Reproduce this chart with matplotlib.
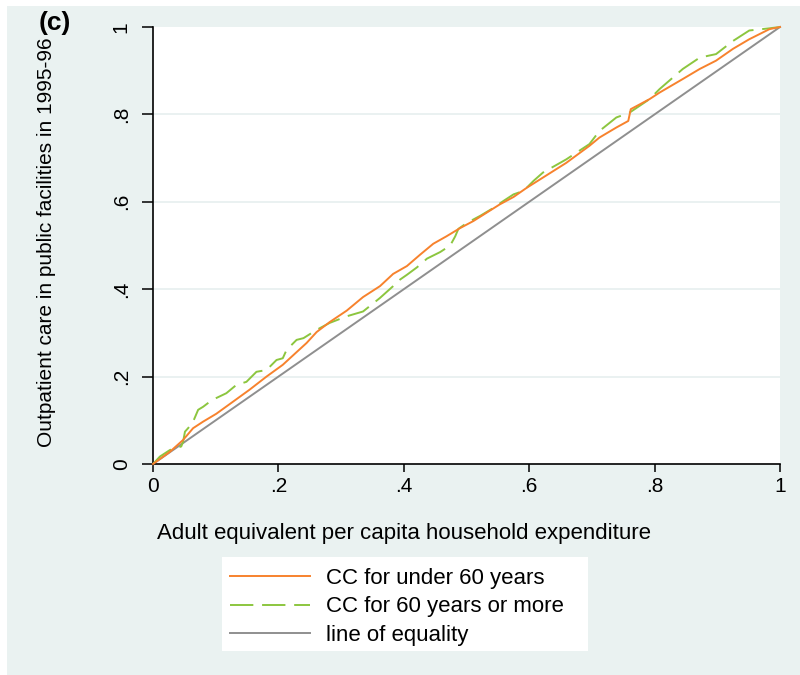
import matplotlib
matplotlib.use('Agg')
import matplotlib.pyplot as plt
from matplotlib.patches import Rectangle

plt.rcParams['font.family'] = ['Liberation Sans', 'DejaVu Sans']

# Concentration curve, under 60 years
under60_x = [0, 0.027, 0.048, 0.064, 0.08, 0.101, 0.128, 0.154, 0.181, 0.207,
             0.229, 0.245, 0.261, 0.282, 0.309, 0.335, 0.362, 0.383, 0.405, 0.426,
             0.447, 0.468, 0.49, 0.511, 0.532, 0.553, 0.575, 0.596, 0.617, 0.659,
             0.696, 0.712, 0.739, 0.758, 0.762, 0.792, 0.808, 0.845, 0.872, 0.898,
             0.925, 0.951, 0.983, 1.0]
under60_y = [0, 0.028, 0.055, 0.082, 0.097, 0.115, 0.143, 0.17, 0.2, 0.227,
             0.256, 0.277, 0.302, 0.325, 0.351, 0.382, 0.407, 0.435, 0.453, 0.479,
             0.504, 0.521, 0.54, 0.556, 0.575, 0.594, 0.611, 0.632, 0.651, 0.689,
             0.728, 0.747, 0.77, 0.785, 0.812, 0.835, 0.85, 0.881, 0.904, 0.923,
             0.95, 0.972, 0.995, 1.0]

# Concentration curve, 60 years or more
over60_x = [0, 0.011, 0.027, 0.035, 0.045, 0.048, 0.051, 0.056, 0.064, 0.072,
            0.08, 0.091, 0.101, 0.117, 0.133, 0.149, 0.165, 0.181, 0.197, 0.207,
            0.213, 0.229, 0.24, 0.261, 0.282, 0.309, 0.335, 0.362, 0.383, 0.394,
            0.405, 0.421, 0.437, 0.458, 0.474, 0.482, 0.487, 0.501, 0.522, 0.543,
            0.559, 0.575, 0.591, 0.607, 0.622, 0.659, 0.696, 0.712, 0.739, 0.76,
            0.792, 0.808, 0.845, 0.872, 0.898, 0.925, 0.951, 0.983, 1.0]
over60_y = [0, 0.017, 0.032, 0.036, 0.04, 0.051, 0.074, 0.082, 0.097, 0.124,
            0.131, 0.143, 0.151, 0.162, 0.181, 0.188, 0.211, 0.215, 0.238, 0.242,
            0.261, 0.284, 0.288, 0.307, 0.323, 0.338, 0.349, 0.38, 0.407, 0.422,
            0.433, 0.45, 0.47, 0.485, 0.5, 0.521, 0.538, 0.552, 0.568, 0.586,
            0.602, 0.617, 0.625, 0.648, 0.667, 0.697, 0.732, 0.762, 0.793, 0.804,
            0.835, 0.858, 0.904, 0.93, 0.938, 0.968, 0.992, 0.997, 1.0]

equality = [0, 1]
ticks = [0, 0.2, 0.4, 0.6, 0.8, 1.0]
tick_labels = ['0', '.2', '.4', '.6', '.8', '1']
legend_labels = ['CC for under 60 years', 'CC for 60 years or more', 'line of equality']

BG = '#EAF2F1'
W, H = 800, 675

fig = plt.figure(figsize=(8, 6.75), dpi=100)
fig.patch.set_facecolor('white')
fig.patches.append(Rectangle((7 / W, 0), 1 - 7 / W, 1 - 6 / H, transform=fig.transFigure,
                             facecolor=BG, edgecolor='none', zorder=-2))
# legend box
fig.patches.append(Rectangle((222 / W, 1 - 651 / H), 366 / W, 94 / H, transform=fig.transFigure,
                             facecolor='white', edgecolor='none', zorder=-1))

ax = fig.add_axes([153 / W, 1 - 464 / H, 627 / W, 437 / H])
ax.set_zorder(2)
ax.set_facecolor('white')

l1, = ax.plot(under60_x, under60_y, color='#F7822D', lw=1.4, clip_on=False, zorder=4)
l2, = ax.plot(over60_x, over60_y, color='#8CC63F', lw=1.4, ls=(0, (12, 4.5)), clip_on=False, zorder=3)
l3, = ax.plot(equality, equality, color='#8F8F8F', lw=1.4, clip_on=False, zorder=2)

ax.set_xlim(0, 1)
ax.set_ylim(0, 1)
ax.set_xticks(ticks)
ax.set_xticklabels(tick_labels)
ax.set_yticks(ticks)
ax.set_yticklabels(tick_labels, rotation=90, va='center')
for s in ['top', 'right']:
    ax.spines[s].set_visible(False)
for s in ['left', 'bottom']:
    ax.spines[s].set_linewidth(1.2)
ax.tick_params(axis='y', length=8, width=1.1, pad=8, labelsize=15)
ax.tick_params(axis='x', length=6, width=1.1, pad=3, labelsize=15)
for yv in ticks[1:-1]:
    ax.axhline(yv, color='#E6EFEF', lw=1.2, zorder=1)

fig.text(47 / W, 1 - 242 / H, 'Outpatient care in public facilities in 1995-96',
         rotation=90, ha='center', va='center', fontsize=15)
fig.text(404 / W, 1 - 533 / H, 'Adult equivalent per capita household expenditure',
         ha='center', va='center', fontsize=16)
fig.text(39 / W, 1 - 23 / H, '(c)', ha='left', va='center', fontsize=19, fontweight='bold')

fig.legend([l1, l2, l3], legend_labels, loc='upper left',
           bbox_to_anchor=(219 / W, 1 - 557 / H), frameon=False, fontsize=16,
           handlelength=3.6, handletextpad=0.72, labelspacing=0.33, borderpad=0.5,
           borderaxespad=0)

fig.savefig('out.png', dpi=100, facecolor='white')
